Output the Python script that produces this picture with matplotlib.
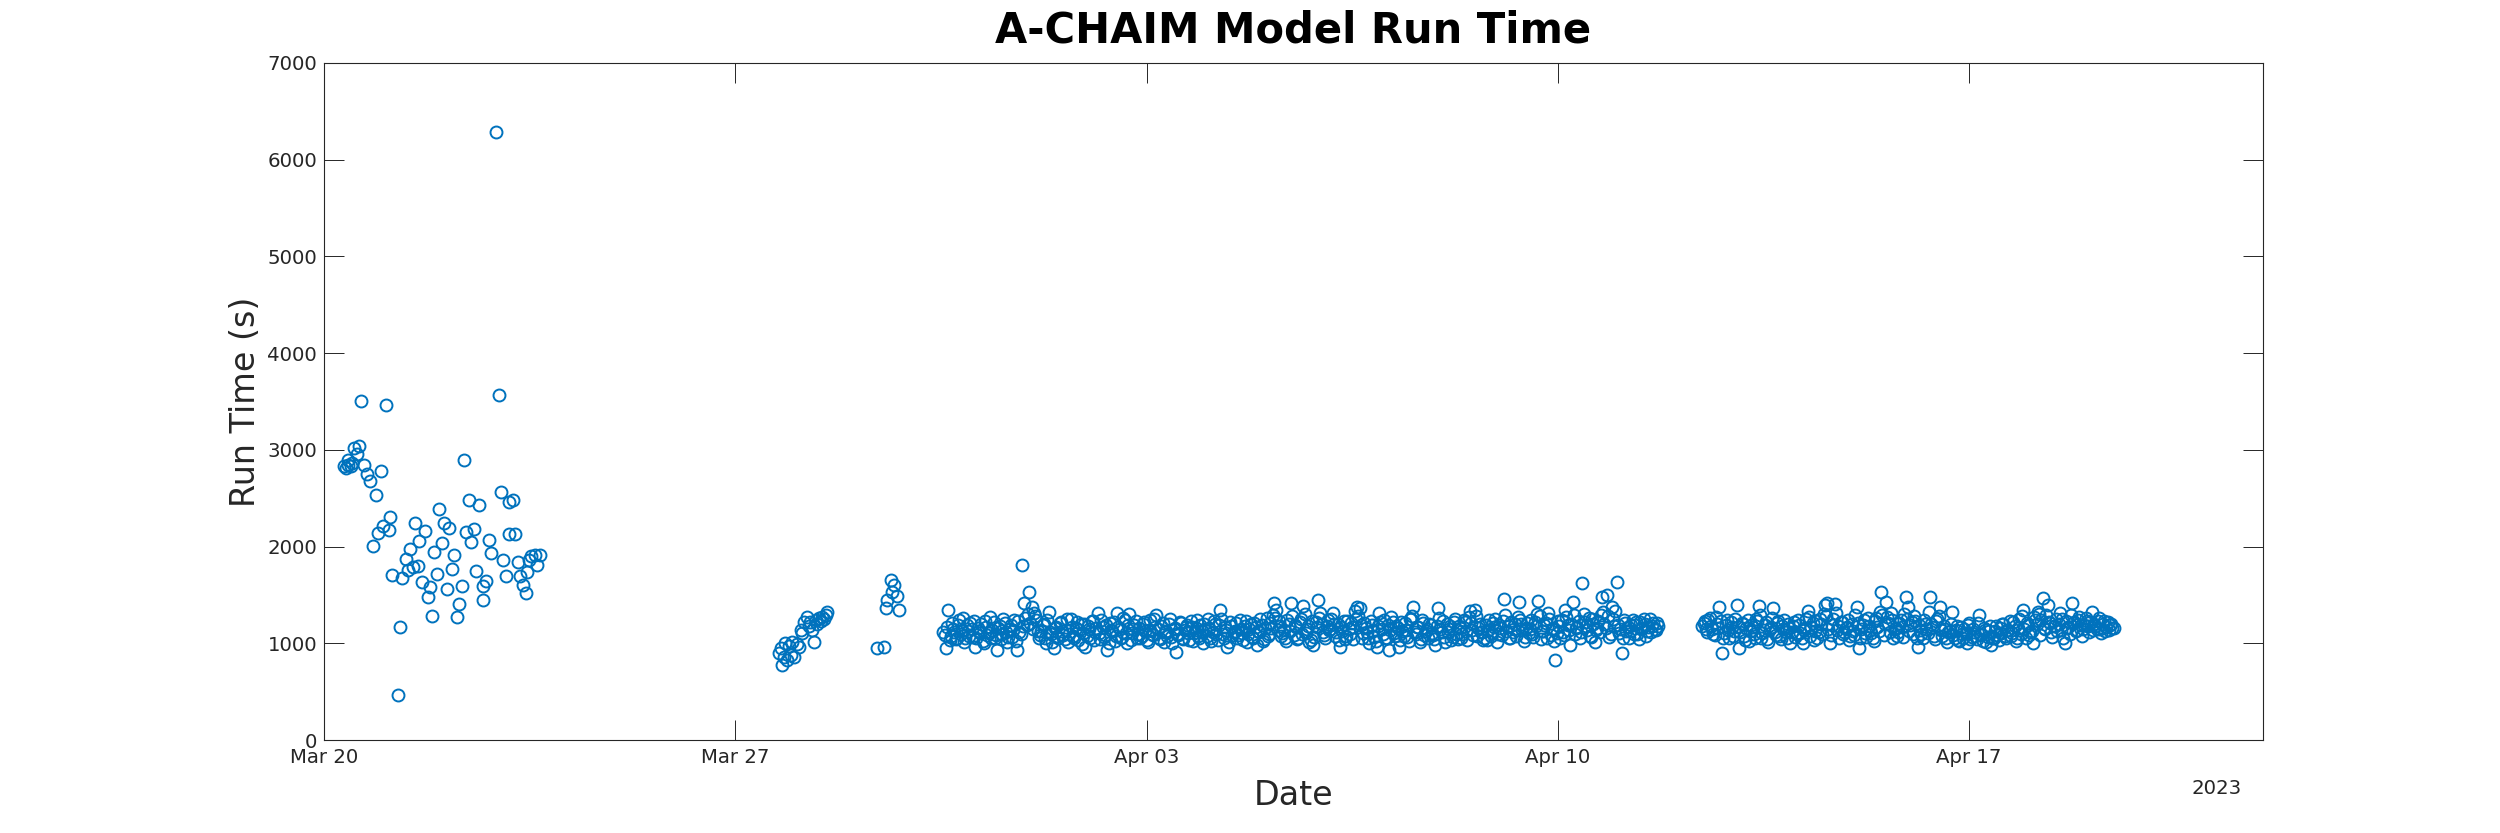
import matplotlib
matplotlib.use("Agg")
import matplotlib.pyplot as plt
import matplotlib.dates as mdates
import numpy as np
import pandas as pd

# ---------------- data ----------------
base_date = pd.Timestamp("2023-03-20 00:00")

# early irregular runs: hours after Mar 20 00:00 and run time (s)
early_hours = [8.2, 9.0, 9.6, 10.0, 11.0, 11.6, 12.4, 13.5, 14.3, 15.3, 16.4, 17.4,
               18.8, 20.0, 21.3, 22.2, 23.3, 24.3, 25.2, 26.4, 27.1, 27.9, 30.3, 31.1,
               32.0, 33.3, 34.5, 35.2, 36.3, 37.3, 38.2, 39.0, 40.2, 41.4, 42.3, 43.3,
               44.3, 45.0, 46.3, 47.0, 48.1, 49.1, 50.2, 51.1, 52.2, 53.3, 54.2, 55.3,
               56.3, 57.1, 57.9, 59.3, 60.2, 61.2, 62.2, 63.2, 65.1, 65.1, 66.2, 67.2,
               68.2, 70.3, 71.3, 72.1, 73.3, 74.3, 75.5, 75.6, 77.3, 78.1, 79.2, 80.1,
               81.2, 82.5, 83.1, 83.6, 84.5, 86.3, 87.0, 88.3]
early_vals = [2831, 2810, 2845, 2900, 2830, 2866, 3021, 2960, 3038, 3510, 2848, 2755,
              2683, 2010, 2534, 2141, 2783, 2210, 3469, 2176, 2303, 1710, 466, 1166,
              1676, 1876, 1762, 1979, 1786, 2241, 1803, 2062, 1631, 2166, 1479, 1583,
              1279, 1945, 1721, 2393, 2038, 2245, 1562, 2190, 1772, 1910, 1272, 1410,
              1597, 2900, 2152, 2486, 2048, 2183, 1748, 2428, 1590, 1452, 1641, 2072,
              1934, 6288, 3566, 2569, 1859, 1693, 2462, 2131, 2483, 2134, 1838, 1700,
              1607, 1521, 1734, 1859, 1900, 1914, 1814, 1910]

# Mar 27/28 group
mid_hours = [185.8, 186.5, 187.2, 187.8, 188.5, 189.2, 189.9, 190.6, 191.2, 191.9,
             193.0, 194.0, 194.7, 195.4, 196.2, 197.4, 198.0, 198.7, 199.4, 200.1,
             200.8, 201.5, 202.2, 202.9, 203.5, 204.2, 204.9, 205.6,
             226.0, 228.7, 229.4, 230.1, 231.5, 232.1, 232.8, 234.2, 234.9]
mid_vals = [896, 950, 775, 860, 999, 830, 975, 880, 1010, 861,
            990, 965, 1137, 1102, 1223, 1275, 1180, 1223, 1137, 1016,
            1240, 1200, 1258, 1230, 1275, 1250, 1292, 1327,
            948, 965, 1361, 1447, 1654, 1533, 1602, 1489, 1344]

# runs on the hour, first continuous period
band1_start = "2023-03-30 13:00"
band1_vals = [
    1120, 950, 1345, 1080, 1150, 1040, 1190, 1100, 1258, 1060, 1130, 1210, 1070, 965, 1160, 1110, 1020, 1230, 1090, 1276,
    1140, 1050, 930, 1180, 1100, 1210, 1010, 1150, 1070, 1240, 930, 1120, 1810, 1413, 1190, 1527, 1379, 1310, 1240, 1060,
    1130, 1200, 1000, 1327, 1100, 948, 1170, 1050, 1220, 1090, 1140, 1010, 1250, 1080, 1160, 1030, 1200, 1110, 965, 1180,
    1060, 1230, 1120, 1317, 1040, 1170, 1090, 930, 1210, 1130, 1020, 1310, 1150, 1070, 1240, 1000, 1303, 1110, 1190, 1050,
    1160, 1080, 1220, 1030, 1140, 1100, 1250, 1293, 1060, 1180, 1010, 1130, 1200, 1070, 1150, 914, 1090, 1210, 1040, 1170,
    1110, 1230, 1020, 1160, 1080, 1190, 1000, 1140, 1250, 1060, 1120, 1200, 1030, 1345, 1100, 1170, 965, 1220, 1090, 1130,
    1050, 1240, 1110, 1180, 1010, 1150, 1070, 1210, 983, 1120, 1190, 1040, 1260, 1100, 1160, 1413, 1345, 1230, 1080, 1140,
    1020, 1200, 1420, 1090, 1170, 1050, 1250, 1386, 1110, 1180, 1030, 983, 1220, 1448, 1310, 1120, 1060, 1240, 1150, 1310,
    1080, 1200, 965, 1130, 1040, 1230, 1100, 1170, 1330, 1380, 1360, 1060, 1210, 1120, 1000, 1190, 1070, 965, 1310, 1150,
    1240, 1050, 930, 1276, 1110, 1180, 965, 1220, 1080, 1140, 1020, 1250, 1379, 1100, 1170, 1040, 1210, 1130, 1060, 1190,
    1090, 983, 1362, 1150, 1230, 1010, 1120, 1180, 1070, 1250, 1040, 1160, 1100, 1220, 1030, 1330, 1140, 1345, 1080, 1200,
    1120, 1060, 1034, 1240, 1110, 1170, 1010, 1190, 1090, 1455, 1130, 1050, 1220, 1150, 1080, 1431, 1200, 1020, 1160, 1110,
    1240, 1070, 1180, 1441, 1040, 1130, 1210, 1310, 1090, 1160, 827, 1230, 1060, 1120, 1345, 1190, 983, 1431, 1100, 1170,
    1050, 1620, 1220, 1140, 1080, 1250, 1010, 1160, 1120, 1482, 1200, 1500, 1070, 1372, 1180, 1638, 1110, 896, 1240, 1130,
    1060, 1190, 1100, 1220, 1040, 1150, 1250, 1080, 1170, 1120, 1210, 1140, 1180]

# runs on the half hour, first continuous period
band1b_start = "2023-03-30 13:30"
band1b_vals = [
    1090, 1170, 1030, 1210, 1120, 1060, 1240, 1140, 1010, 1190, 1080, 1150, 1230, 1050, 1130, 1200, 1000, 1170, 1110, 1060,
    1220, 1090, 1160, 1040, 1250, 1120, 1070, 1190, 1140, 1020, 1230, 1100, 1180, 1260, 1300, 1210, 1150, 1280, 1130, 1090,
    1190, 1050, 1240, 1120, 1010, 1160, 1080, 1210, 1130, 1040, 1250, 1100, 1170, 1060, 1220, 1140, 990, 1200, 1080, 1150,
    1230, 1030, 1160, 1110, 1240, 1070, 1190, 1000, 1140, 1220, 1080, 1170, 1050, 1260, 1110, 1190, 1030, 1150, 1230, 1100,
    1060, 1200, 1130, 1010, 1240, 1090, 1170, 1150, 1040, 1210, 1120, 1080, 1250, 1000, 1160, 1100, 1220, 1060, 1140, 1190,
    1030, 1170, 1110, 1240, 1050, 1130, 1200, 1080, 1160, 1020, 1230, 1100, 1190, 1250, 1060, 1140, 1010, 1180, 1120, 1210,
    1090, 1150, 1030, 1230, 1100, 1200, 1050, 1170, 1130, 1250, 1020, 1160, 1080, 1210, 1290, 1260, 1140, 1180, 1110, 1060,
    1240, 1130, 1280, 1190, 1040, 1220, 1100, 1300, 1150, 1010, 1230, 1070, 1170, 1260, 1200, 1090, 1180, 1140, 1250, 1200,
    1120, 1030, 1170, 1230, 1080, 1150, 1210, 1040, 1250, 1280, 1190, 1110, 1160, 1060, 1230, 1130, 1020, 1180, 1220, 1100,
    1050, 1190, 1140, 1220, 1080, 1160, 1030, 1130, 1210, 1070, 1250, 1280, 1120, 1170, 1010, 1240, 1090, 1150, 1200, 1110,
    1040, 1180, 1260, 1120, 1070, 1200, 1150, 1030, 1220, 1100, 1180, 1060, 1240, 1130, 1270, 1210, 1090, 1280, 1160, 1120,
    1030, 1190, 1140, 1080, 1210, 1250, 1100, 1160, 1230, 1290, 1180, 1060, 1120, 1200, 1270, 1240, 1140, 1070, 1210, 1150,
    1100, 1220, 1300, 1280, 1130, 1190, 1060, 1250, 1150, 1020, 1110, 1180, 1240, 1090, 1270, 1140, 1200, 1290, 1160, 1230,
    1120, 1300, 1180, 1260, 1070, 1200, 1140, 1230, 1290, 1320, 1160, 1280, 1100, 1250, 1330, 1190, 1150, 1060, 1210, 1170,
    1130, 1240, 1190, 1100, 1220, 1160, 1200, 1130, 1250, 1180, 1150, 1210]

# runs on the hour, second continuous period
band2_start = "2023-04-12 11:00"
band2_vals = [
    1180, 1230, 1120, 1260, 1150, 1090, 1200, 1379, 896, 1110, 1240, 1050, 1170, 1130, 1396, 948, 1210, 1080, 1160, 1020,
    1190, 1100, 1250, 1386, 1060, 1140, 1220, 1010, 1170, 1362, 1090, 1230, 1040, 1150, 1120, 1200, 1000, 1180, 1070, 1240,
    1110, 1000, 1160, 1334, 1080, 1210, 1130, 1050, 1250, 1100, 1400, 1413, 1000, 1190, 1405, 1140, 1060, 1220, 1120, 1170,
    1030, 1200, 1090, 1372, 948, 1150, 1240, 1070, 1180, 1110, 1020, 1260, 1130, 1527, 1090, 1431, 1210, 1310, 1050, 1160,
    1120, 1240, 1070, 1482, 1379, 1190, 1100, 1230, 965, 1140, 1060, 1200, 1110, 1482, 1170, 1040, 1250, 1379, 1080, 1150,
    1010, 1130, 1327, 1060, 1180, 1020, 1100, 1150, 1000, 1210, 1070, 1120, 1040, 1293, 1090, 1160, 1010, 1130, 983, 1060,
    1180, 1030, 1110, 1200, 1050, 1140, 1080, 1220, 1020, 1160, 1100, 1345, 1060, 1190, 1120, 1007, 1240, 1327, 1090, 1465,
    1150, 1396, 1210, 1070, 1180, 1130, 1310, 1250, 1000, 1160, 1100, 1413, 1220, 1140, 1270, 1080, 1190, 1230, 1120, 1327,
    1200, 1150, 1260, 1110, 1230, 1170, 1140, 1200, 1160]

# runs on the half hour, second continuous period
band2b_start = "2023-04-12 11:30"
band2b_vals = [
    1210, 1150, 1240, 1180, 1100, 1270, 1160, 1230, 1060, 1190, 1140, 1220, 1080, 1250, 1170, 1120, 1200, 1030, 1240, 1130,
    1170, 1060, 1230, 1290, 1110, 1190, 1040, 1150, 1260, 1120, 1210, 1080, 1180, 1240, 1050, 1160, 1120, 1220, 1100, 1190,
    1060, 1140, 1250, 1270, 1170, 1030, 1230, 1120, 1200, 1300, 1280, 1150, 1090, 1250, 1310, 1180, 1220, 1100, 1160, 1240,
    1080, 1130, 1290, 1210, 1050, 1190, 1110, 1260, 1140, 1060, 1230, 1170, 1320, 1290, 1200, 1270, 1120, 1240, 1150, 1080,
    1210, 1170, 1300, 1250, 1130, 1220, 1280, 1060, 1190, 1100, 1240, 1150, 1320, 1200, 1080, 1230, 1280, 1140, 1180, 1050,
    1120, 1200, 1090, 1140, 1030, 1170, 1060, 1110, 1190, 1040, 1150, 1080, 1210, 1100, 1020, 1140, 1070, 1180, 1050, 1130,
    1090, 1160, 1200, 1080, 1140, 1230, 1110, 1180, 1060, 1250, 1280, 1150, 1210, 1090, 1130, 1270, 1200, 1300, 1240, 1160,
    1290, 1220, 1120, 1180, 1250, 1200, 1140, 1060, 1230, 1170, 1290, 1210, 1130, 1240, 1190, 1150, 1260, 1180, 1220, 1140,
    1180, 1230, 1150, 1200, 1130, 1220, 1190, 1160]

x_tick_dates = ["2023-03-20", "2023-03-27", "2023-04-03", "2023-04-10", "2023-04-17"]
y_ticks = [0, 1000, 2000, 3000, 4000, 5000, 6000, 7000]
x_limits = ["2023-03-20", "2023-04-22"]

# ---------------- assemble ----------------
t_early = base_date + pd.to_timedelta(early_hours, unit="h")
t_mid = base_date + pd.to_timedelta(mid_hours, unit="h")
t_b1 = pd.date_range(band1_start, periods=len(band1_vals), freq="h")
t_b1b = pd.date_range(band1b_start, periods=len(band1b_vals), freq="h")
t_b2 = pd.date_range(band2_start, periods=len(band2_vals), freq="h")
t_b2b = pd.date_range(band2b_start, periods=len(band2b_vals), freq="h")

times = np.concatenate([t_early.values, t_mid.values, t_b1.values, t_b1b.values,
                        t_b2.values, t_b2b.values])
vals = np.concatenate([early_vals, mid_vals, band1_vals, band1b_vals,
                       band2_vals, band2b_vals])

# ---------------- plot ----------------
plt.rcParams['font.family'] = ['DejaVu Sans']
txt = '#262626'
blue = '#0072BD'

fig = plt.figure(figsize=(25, 8.33), dpi=100)
ax = fig.add_axes([0.1296, 0.1116, 0.7756, 0.8128])

ax.plot(times, vals, linestyle='none', marker='o', markerfacecolor='none',
        markeredgecolor=blue, markersize=8.6, markeredgewidth=1.4)

ax.set_xlim(pd.Timestamp(x_limits[0]), pd.Timestamp(x_limits[1]))
ax.set_ylim(y_ticks[0], y_ticks[-1])
ax.set_yticks(y_ticks)
ax.set_xticks([pd.Timestamp(d) for d in x_tick_dates])
ax.xaxis.set_major_formatter(mdates.DateFormatter('%b %d'))

for s in ax.spines.values():
    s.set_color(txt)
    s.set_linewidth(0.8)
ax.tick_params(axis='both', which='major', direction='in', length=14.4, width=0.7,
               colors=txt, labelsize=14.2, top=True, right=True)
ax.tick_params(axis='x', pad=6)
ax.tick_params(axis='y', pad=5)

ax.set_title('A-CHAIM Model Run Time', fontsize=30, fontweight='bold', color='black', pad=15)
ax.set_xlabel('Date', fontsize=24, color=txt)
ax.set_ylabel('Run Time (s)', fontsize=24, color=txt)
ax.xaxis.set_label_coords(0.5, -0.057)
ax.yaxis.set_label_coords(-0.032, 0.5)

fig.text(2242 / 2500, 1 - 788 / 833, '2023', ha='right', va='center', fontsize=14.2, color=txt)

fig.savefig('out.png', dpi=100, facecolor='white')
